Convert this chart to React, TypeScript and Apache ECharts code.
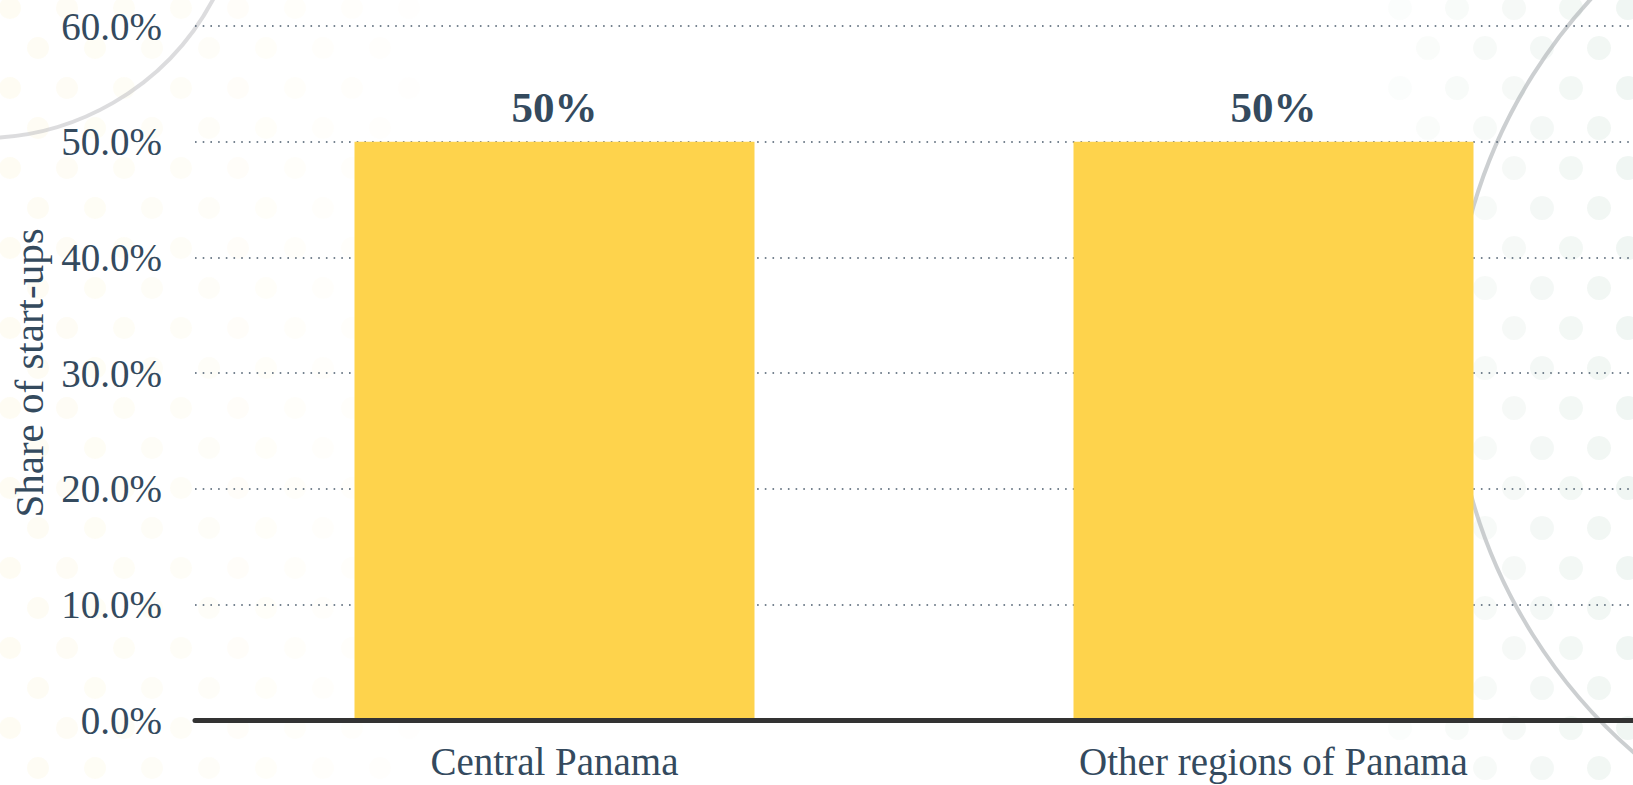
import React, { useEffect, useRef } from "react";
import * as echarts from "echarts";

const categories: string[] = ["Central Panama", "Other regions of Panama"];
const shareValues: number[] = [50, 50];
const yTicks = { min: 0, max: 60, interval: 10 };
const axisTitle = "Share of start-ups";

const W = 1633;
const H = 785;
const FONT = "'Liberation Serif', 'Times New Roman', serif";
const TEXT = "#344a5e";

function decorDots(): any[] {
  const out: any[] = [];
  // faint decorative dot pattern (background only)
  for (let row = 0; row < 20; row++) {
    const y = 8 + row * 40;
    const off = row % 2 === 0 ? 0 : 28;
    for (let x = 10 + off; x < 420; x += 57) {
      const fade = 1 - x / 420;
      out.push({
        type: "circle",
        silent: true,
        z: -10,
        shape: { cx: x, cy: y, r: 11 },
        style: { fill: `rgba(250, 238, 185, ${0.14 * fade + 0.03})` },
      });
    }
    for (let x = 1400 + off; x < W + 20; x += 57) {
      const fade = (x - 1400) / 240;
      out.push({
        type: "circle",
        silent: true,
        z: -10,
        shape: { cx: x, cy: y, r: 12 },
        style: { fill: `rgba(205, 224, 212, ${0.22 * fade + 0.08})` },
      });
    }
  }
  return out;
}

export default function App() {
  const ref = useRef<HTMLDivElement>(null);
  useEffect(() => {
    if (!ref.current) return;
    const chart = echarts.init(ref.current, null, { renderer: "svg" });
    chart.setOption({
      animation: false,
      backgroundColor: "#ffffff",
      graphic: [
        ...decorDots(),
        {
          type: "circle",
          silent: true,
          z: -9,
          shape: { cx: -18, cy: -124, r: 262 },
          style: { fill: "none", stroke: "rgba(185,185,190,0.5)", lineWidth: 4 },
        },
        {
          type: "circle",
          silent: true,
          z: -9,
          shape: { cx: 1977, cy: 355, r: 525 },
          style: { fill: "none", stroke: "rgba(170,175,178,0.6)", lineWidth: 4 },
        },
      ],
      grid: { left: 195, right: 0, top: 26, bottom: 65, containLabel: false },
      xAxis: {
        type: "category",
        data: categories,
        axisLine: { show: true, lineStyle: { color: "#333333", width: 5 } },
        axisTick: { show: false },
        axisLabel: {
          color: TEXT,
          fontFamily: FONT,
          fontSize: 39,
          margin: 22,
        },
        z: 5,
      },
      yAxis: {
        type: "value",
        min: yTicks.min,
        max: yTicks.max,
        interval: yTicks.interval,
        name: axisTitle,
        nameLocation: "middle",
        nameGap: 146,
        nameRotate: 90,
        nameTextStyle: { color: TEXT, fontFamily: FONT, fontSize: 41 },
        axisLine: { show: false },
        axisTick: { show: false },
        axisLabel: {
          color: TEXT,
          fontFamily: FONT,
          fontSize: 39,
          margin: 33,
          formatter: (v: number) => v.toFixed(1) + "%",
        },
        splitLine: {
          show: true,
          lineStyle: { color: "#4a5b6c", width: 1.6, type: [1.6, 6.1] },
        },
      },
      series: [
        {
          type: "bar",
          data: shareValues,
          barWidth: 400,
          itemStyle: { color: "#fed34c" },
          z: 3,
          label: {
            show: true,
            position: "top",
            distance: 13,
            color: TEXT,
            fontFamily: FONT,
            fontWeight: "bold",
            fontSize: 43,
            formatter: (p: any) => p.value + "%",
          },
        },
      ],
    });
    return () => chart.dispose();
  }, []);
  return <div ref={ref} style={{ width: W, height: H, position: "absolute", left: 0, top: 0 }} />;
}
